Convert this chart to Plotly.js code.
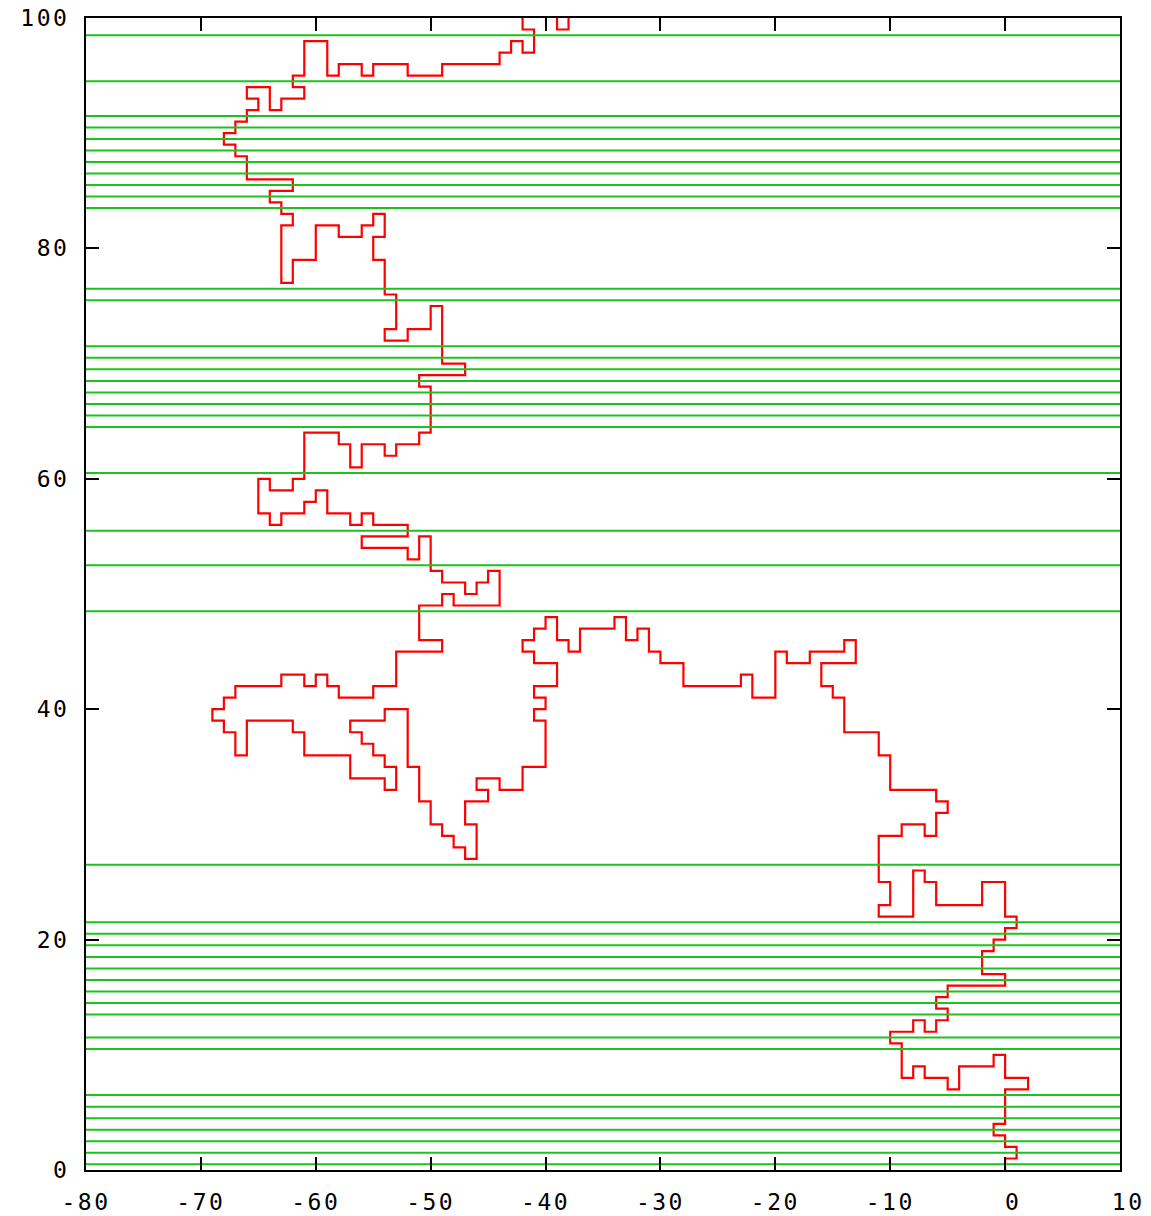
<!DOCTYPE html>
<html>
<head>
<meta charset="utf-8">
<script src="https://cdn.plot.ly/plotly-3.0.1.min.js"></script>
<style>
  html, body { margin: 0; padding: 0; background: #ffffff; }
  #chart { width: 1151px; height: 1216px; }
  /* wider, typewriter-like spacing for the axis numbers */
  #chart .xtick text, #chart .ytick text { letter-spacing: 2.5px; }
</style>
</head>
<body>
<div id="chart"></div>
<script>
// Lattice walk: corner vertices of the red step path (null = leaves the frame)
const walkX = [
  0, 0, 1, 1, 0, 0, -1, -1, 0, 0, 2, 2, 0, 0, -1, -1, -4, -4, -5, -5,
  -7, -7, -8, -8, -9, -9, -10, -10, -8, -8, -7, -7, -6, -6, -5, -5, -6, -6, -5, -5,
  0, 0, -2, -2, -1, -1, 0, 0, 1, 1, 0, 0, -2, -2, -6, -6, -7, -7, -8, -8,
  -11, -11, -10, -10, -11, -11, -9, -9, -7, -7, -6, -6, -5, -5, -6, -6, -10, -10, -11, -11,
  -14, -14, -15, -15, -16, -16, -13, -13, -14, -14, -17, -17, -19, -19, -20, -20, -22, -22, -23, -23,
  -28, -28, -30, -30, -31, -31, -32, -32, -33, -33, -34, -34, -37, -37, -38, -38, -39, -39, -40, -40,
  -41, -41, -42, -42, -41, -41, -39, -39, -41, -41, -40, -40, -41, -41, -40, -40, -42, -42, -44, -44,
  -46, -46, -45, -45, -47, -47, -46, -46, -47, -47, -48, -48, -49, -49, -50, -50, -51, -51, -52, -52,
  -54, -54, -57, -57, -56, -56, -55, -55, -54, -54, -53, -53, -54, -54, -57, -57, -61, -61, -62, -62,
  -66, -66, -67, -67, -68, -68, -69, -69, -68, -68, -67, -67, -63, -63, -61, -61, -60, -60, -59, -59,
  -58, -58, -55, -55, -53, -53, -49, -49, -51, -51, -49, -49, -48, -48, -44, -44, -45, -45, -46, -46,
  -47, -47, -49, -49, -50, -50, -51, -51, -52, -52, -56, -56, -52, -52, -55, -55, -56, -56, -57, -57,
  -59, -59, -60, -60, -61, -61, -63, -63, -64, -64, -65, -65, -64, -64, -62, -62, -61, -61, -58, -58,
  -57, -57, -56, -56, -54, -54, -53, -53, -51, -51, -50, -50, -51, -51, -47, -47, -49, -49, -50, -50,
  -52, -52, -54, -54, -53, -53, -54, -54, -55, -55, -54, -54, -55, -55, -56, -56, -58, -58, -60, -60,
  -62, -62, -63, -63, -62, -62, -63, -63, -64, -64, -62, -62, -66, -66, -67, -67, -68, -68, -67, -67,
  -66, -66, -65, -65, -66, -66, -64, -64, -63, -63, -61, -61, -62, -62, -61, -61, -59, -59, -58, -58,
  -56, -56, -55, -55, -52, -52, -49, -49, -44, -44, -43, -43, -42, -42, -41, -41, -42, -42,
  null,
  -39, -39, -38, -38
];
const walkY = [
  0, 1, 1, 2, 2, 3, 3, 4, 4, 7, 7, 8, 8, 10, 10, 9, 9, 7, 7, 8,
  8, 9, 9, 8, 8, 11, 11, 12, 12, 13, 13, 12, 12, 13, 13, 14, 14, 15, 15, 16,
  16, 17, 17, 19, 19, 20, 20, 21, 21, 22, 22, 25, 25, 23, 23, 25, 25, 26, 26, 22,
  22, 23, 23, 25, 25, 29, 29, 30, 30, 29, 29, 31, 31, 32, 32, 33, 33, 36, 36, 38,
  38, 41, 41, 42, 42, 44, 44, 46, 46, 45, 45, 44, 44, 45, 45, 41, 41, 43, 43, 42,
  42, 44, 44, 45, 45, 47, 47, 46, 46, 48, 48, 47, 47, 45, 45, 46, 46, 48, 48, 47,
  47, 46, 46, 45, 45, 44, 44, 42, 42, 41, 41, 40, 40, 39, 39, 35, 35, 33, 33, 34,
  34, 33, 33, 32, 32, 30, 30, 27, 27, 28, 28, 29, 29, 30, 30, 32, 32, 35, 35, 40,
  40, 39, 39, 38, 38, 37, 37, 36, 36, 35, 35, 33, 33, 34, 34, 36, 36, 38, 38, 39,
  39, 36, 36, 38, 38, 39, 39, 40, 40, 41, 41, 42, 42, 43, 43, 42, 42, 43, 43, 42,
  42, 41, 41, 42, 42, 45, 45, 46, 46, 49, 49, 50, 50, 49, 49, 52, 52, 51, 51, 50,
  50, 51, 51, 52, 52, 55, 55, 53, 53, 54, 54, 55, 55, 56, 56, 57, 57, 56, 56, 57,
  57, 59, 59, 58, 58, 57, 57, 56, 56, 57, 57, 60, 60, 59, 59, 60, 60, 64, 64, 63,
  63, 61, 61, 63, 63, 62, 62, 63, 63, 64, 64, 68, 68, 69, 69, 70, 70, 75, 75, 73,
  73, 72, 72, 73, 73, 76, 76, 79, 79, 81, 81, 83, 83, 82, 82, 81, 81, 82, 82, 79,
  79, 77, 77, 82, 82, 83, 83, 84, 84, 85, 85, 86, 86, 88, 88, 89, 89, 90, 90, 91,
  91, 92, 92, 93, 93, 94, 94, 92, 92, 93, 93, 94, 94, 95, 95, 98, 98, 95, 95, 96,
  96, 95, 95, 96, 96, 95, 95, 96, 96, 97, 97, 98, 98, 97, 97, 99, 99, 100,
  null,
  100, 99, 99, 100
];

// Heights where the walk crosses the level exactly once
const cutLevels = [
  0.5, 1.5, 2.5, 3.5, 4.5, 5.5, 6.5,
  10.5, 11.5, 13.5, 14.5, 15.5, 16.5, 17.5, 18.5, 19.5, 20.5, 21.5,
  26.5, 48.5, 52.5, 55.5, 60.5,
  64.5, 65.5, 66.5, 67.5, 68.5, 69.5, 70.5, 71.5, 75.5, 76.5,
  83.5, 84.5, 85.5, 86.5, 87.5, 88.5, 89.5, 90.5, 91.5, 94.5, 98.5
];

const xRange = [-80, 10];
const yRange = [0, 100];
const xTicks = [-80, -70, -60, -50, -40, -30, -20, -10, 0, 10];
const xTickText = ['-80', '-70', '-60', '-50', '-40', '-30', '-20', '-10', '\u00a00', '\u00a010'];
const yTicks = [0, 20, 40, 60, 80, 100];
const yTickText = ['0', '20', '40', '60', '80', '100'];

// one trace holding every cut level as a full-width segment
const cutX = [], cutY = [];
cutLevels.forEach(function (v) {
  cutX.push(xRange[0], xRange[1], null);
  cutY.push(v, v, null);
});

const walkTrace = {
  type: 'scatter', mode: 'lines',
  x: walkX, y: walkY,
  line: { color: '#ff0000', width: 2.2 },
  connectgaps: false,
  hoverinfo: 'skip', showlegend: false
};
const cutTrace = {
  type: 'scatter', mode: 'lines',
  x: cutX, y: cutY,
  line: { color: '#1ec21e', width: 2 },
  connectgaps: false,
  hoverinfo: 'skip', showlegend: false
};

const tickFont = { family: 'DejaVu Sans Mono, Liberation Mono, monospace', size: 23, color: '#000000' };

const axisCommon = {
  showgrid: false, zeroline: false,
  showline: true, linecolor: '#000000', linewidth: 2,
  mirror: 'ticks', ticks: 'inside', ticklen: 13, tickwidth: 2, tickcolor: '#000000',
  tickfont: tickFont, fixedrange: true
};

const layout = {
  width: 1151, height: 1216,
  margin: { l: 86, r: 31, t: 18, b: 46 },
  paper_bgcolor: '#ffffff', plot_bgcolor: '#ffffff',
  showlegend: false,
  xaxis: Object.assign({}, axisCommon, {
    range: xRange, tickmode: 'array', tickvals: xTicks, ticktext: xTickText,
    ticklabelstandoff: 10
  }),
  yaxis: Object.assign({}, axisCommon, {
    range: yRange, tickmode: 'array', tickvals: yTicks, ticktext: yTickText,
    ticklabelstandoff: 10
  })
};

Plotly.newPlot('chart', [walkTrace, cutTrace], layout, { staticPlot: true, displayModeBar: false });
</script>
</body>
</html>
